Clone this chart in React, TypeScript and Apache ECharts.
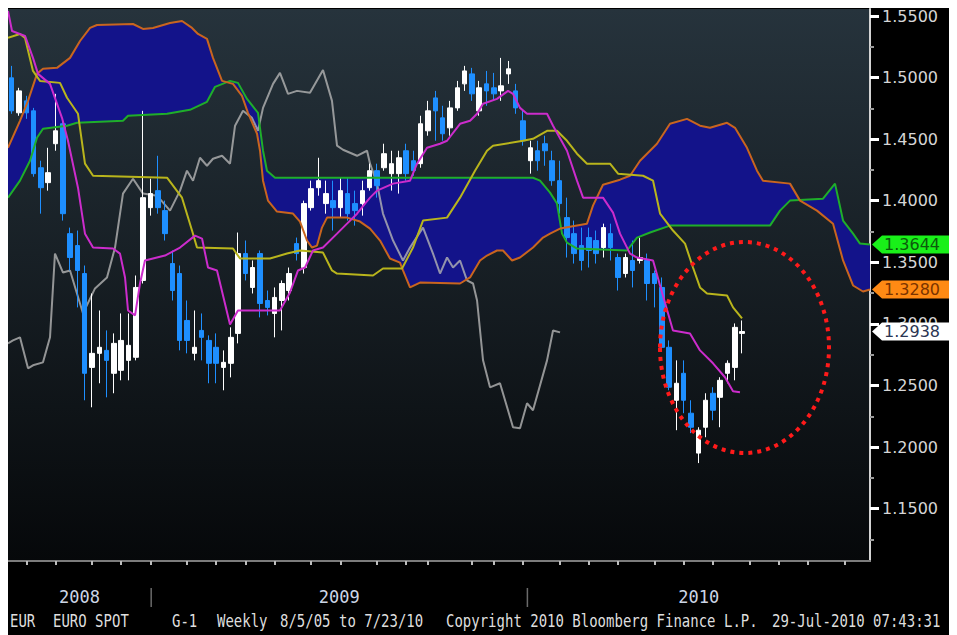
import React, { useEffect, useRef } from 'react';
import * as echarts from 'echarts';

// ---- Weekly EUR/USD candles (index 0 = first visible week) ----
const opens = [
  1.4998, 1.4714, 1.4811, 1.473, 1.4268, 1.4147, 1.4463, 1.4625, 1.3733, 1.3636,
  1.3409, 1.2647, 1.2761, 1.2785, 1.2599, 1.2623, 1.2704, 1.2729, 1.3353, 1.3944,
  1.4082, 1.392, 1.349, 1.3409, 1.3028, 1.2761, 1.2947, 1.2866, 1.281, 1.2647,
  1.268, 1.2923, 1.3571, 1.3296, 1.3571, 1.319, 1.3085, 1.319, 1.3271, 1.3652,
  1.3458, 1.3944, 1.4106, 1.3977, 1.4001, 1.3944, 1.4058, 1.3977, 1.3977, 1.4106,
  1.4244, 1.4268, 1.422, 1.422, 1.4406, 1.4325, 1.4301, 1.4568, 1.4835, 1.4673,
  1.4592, 1.4754, 1.4949, 1.503, 1.473, 1.4949, 1.4917, 1.4892, 1.503, 1.4892,
  1.4649, 1.4325, 1.4406, 1.4463, 1.4325, 1.4163, 1.3863, 1.3733, 1.3636, 1.3701,
  1.3677, 1.362, 1.3733, 1.3539, 1.3409, 1.3515, 1.3515, 1.3515, 1.3409, 1.3296,
  1.281, 1.238, 1.2599, 1.2275, 1.1951, 1.2161, 1.2437, 1.2404, 1.2599, 1.2647,
  1.2923,
];
const closes = [
  1.473, 1.4892, 1.4714, 1.422, 1.4106, 1.4228, 1.4568, 1.3895, 1.3539, 1.3434,
  1.2599, 1.2761, 1.281, 1.2704, 1.2842, 1.2866, 1.2826, 1.3296, 1.4025, 1.4058,
  1.3944, 1.3733, 1.3271, 1.2866, 1.2866, 1.281, 1.2891, 1.268, 1.268, 1.2688,
  1.2891, 1.3571, 1.3409, 1.3458, 1.3166, 1.3134, 1.3215, 1.3328, 1.3409, 1.3571,
  1.3977, 1.4098, 1.4163, 1.4058, 1.3944, 1.4082, 1.3895, 1.392, 1.4082, 1.4244,
  1.4122, 1.4382, 1.4301, 1.4349, 1.422, 1.4244, 1.4625, 1.473, 1.473, 1.4544,
  1.4754, 1.4917, 1.5054, 1.4868, 1.4917, 1.4892, 1.4868, 1.4933, 1.5071, 1.4754,
  1.4487, 1.443, 1.4325, 1.4406, 1.4163, 1.3977, 1.3701, 1.3571, 1.3515, 1.3596,
  1.3571, 1.3782, 1.362, 1.3377, 1.3539, 1.3434, 1.3539, 1.3328, 1.3328, 1.281,
  1.2486, 1.2518, 1.238, 1.2161, 1.2137, 1.238, 1.2299, 1.2542, 1.268, 1.2972,
  1.2938,
];
const lows = [
  1.4706, 1.469, 1.4665, 1.4195, 1.3895, 1.4082, 1.4406, 1.3839, 1.3434, 1.3134,
  1.238, 1.2323, 1.2518, 1.2404, 1.2437, 1.2542, 1.2542, 1.2704, 1.3328, 1.3879,
  1.3895, 1.3677, 1.319, 1.2785, 1.2761, 1.2704, 1.2704, 1.2518, 1.2518, 1.2461,
  1.2566, 1.2842, 1.3353, 1.3247, 1.3053, 1.3069, 1.2891, 1.2947, 1.319, 1.3515,
  1.3409, 1.392, 1.4041, 1.3895, 1.3758, 1.3863, 1.3839, 1.3798, 1.3879, 1.4082,
  1.4025, 1.4244, 1.4082, 1.4058, 1.4163, 1.4203, 1.4268, 1.4528, 1.4487, 1.4487,
  1.4528, 1.473, 1.4892, 1.4811, 1.469, 1.4771, 1.4811, 1.4811, 1.4949, 1.4706,
  1.4447, 1.422, 1.4244, 1.4284, 1.4122, 1.3895, 1.3539, 1.349, 1.3434, 1.3458,
  1.349, 1.3539, 1.3515, 1.3271, 1.3377, 1.3296, 1.349, 1.319, 1.3134, 1.2785,
  1.2461, 1.2137, 1.2275, 1.2113, 1.187, 1.208, 1.2218, 1.2161, 1.2518, 1.2542,
  1.2761,
];
const highs = [
  1.5095, 1.4917, 1.4852, 1.4754, 1.4325, 1.443, 1.4868, 1.4665, 1.3782, 1.3758,
  1.3474, 1.3247, 1.3109, 1.2947, 1.2923, 1.3085, 1.3085, 1.3393, 1.473, 1.4179,
  1.4365, 1.4001, 1.3596, 1.3474, 1.319, 1.3109, 1.3085, 1.2907, 1.2923, 1.2785,
  1.2972, 1.3742, 1.3677, 1.3515, 1.3596, 1.3271, 1.3296, 1.3353, 1.3458, 1.3701,
  1.4001, 1.4163, 1.4349, 1.4163, 1.4163, 1.4187, 1.4187, 1.4082, 1.4163, 1.4301,
  1.4301, 1.4463, 1.4406, 1.4406, 1.4463, 1.4406, 1.469, 1.4811, 1.4892, 1.4771,
  1.4811, 1.4973, 1.5095, 1.5079, 1.4973, 1.5054, 1.5038, 1.516, 1.5135, 1.4949,
  1.473, 1.4487, 1.4487, 1.4528, 1.4406, 1.4325, 1.4025, 1.3839, 1.3782, 1.3782,
  1.3758, 1.3814, 1.3814, 1.3571, 1.3571, 1.3677, 1.3701, 1.3571, 1.3434, 1.3377,
  1.2866, 1.2704, 1.2704, 1.238, 1.2161, 1.2437, 1.2486, 1.2567, 1.2704, 1.3004,
  1.3028,
];

// ---- Ichimoku lines, read as [week index, price] vertices ----
const tenkan = [
  [-0.5, 1.5541], [0.05, 1.5378], [1.83, 1.5338], [2.92, 1.516], [3.61, 1.503], [5.25, 1.4949],
  [6.89, 1.4673], [7.71, 1.4487], [9.08, 1.4106], [10.04, 1.3733], [11.14, 1.362], [13.87, 1.3612],
  [14.83, 1.3571], [15.52, 1.3377], [15.93, 1.3109], [16.89, 1.3069], [17.57, 1.3328], [18.25, 1.3515],
  [20.99, 1.3555], [23.05, 1.362], [25.1, 1.3717], [26.06, 1.3693], [26.88, 1.3458], [28.11, 1.3434],
  [29.89, 1.2996], [30.98, 1.3109], [36.73, 1.3109], [38.1, 1.3255], [39.2, 1.3434], [40.16, 1.3458],
  [41.25, 1.3596], [42.62, 1.362], [44.54, 1.3733], [45.91, 1.3814], [47.28, 1.3895], [48.37, 1.3977],
  [49.06, 1.4025], [50.02, 1.4082], [52.21, 1.4139], [54.54, 1.4163], [55.49, 1.4301], [56.86, 1.443],
  [58.64, 1.4463], [59.6, 1.4487], [61.38, 1.4625], [62.75, 1.4649], [63.71, 1.4706], [64.53, 1.4787],
  [66.44, 1.4827], [67.95, 1.4892], [68.63, 1.4868], [69.59, 1.4754], [70.55, 1.4706], [73.29, 1.4706],
  [74.11, 1.4609], [76.02, 1.4406], [77.39, 1.4163], [78.22, 1.4025], [80.95, 1.4025], [82.32, 1.3904],
  [83.28, 1.3733], [84.65, 1.3571], [85.61, 1.3539], [87.8, 1.3515], [88.76, 1.3312], [90.53, 1.2947],
  [92.86, 1.2923], [94.23, 1.2785], [96.01, 1.268], [97.65, 1.2567], [98.75, 1.2453], [99.7, 1.2445],
];
const kijun = [
  [-0.5, 1.5322], [1.14, 1.5354], [1.83, 1.5322], [2.92, 1.5054], [3.88, 1.4973], [6.62, 1.4957],
  [7.58, 1.4836], [9.08, 1.4706], [10.04, 1.4301], [11.14, 1.4203], [21.27, 1.4187], [23.32, 1.4025],
  [24.69, 1.3758], [25.37, 1.362], [30.3, 1.3612], [31.26, 1.3531], [35.36, 1.3531], [37.69, 1.3571],
  [39.47, 1.3596], [42.62, 1.3579], [43.85, 1.3434], [44.54, 1.3409], [49.47, 1.3393], [50.83, 1.345],
  [53.44, 1.345], [54.94, 1.362], [56.31, 1.3839], [59.6, 1.3863], [61.38, 1.4025], [63.43, 1.4244],
  [65.07, 1.4406], [65.89, 1.4447], [70.0, 1.4487], [71.37, 1.4503], [73.29, 1.4568], [74.65, 1.4568],
  [76.02, 1.4487], [77.39, 1.4382], [78.76, 1.4301], [81.91, 1.4301], [83.01, 1.422], [86.43, 1.4203],
  [87.8, 1.4163], [88.76, 1.3896], [90.53, 1.3758], [92.18, 1.3652], [93.27, 1.3458], [94.23, 1.3296],
  [95.19, 1.3247], [97.93, 1.3231], [98.75, 1.3134], [99.98, 1.3045],
];
const senkouA = [
  [-0.5, 1.4025], [1.14, 1.4163], [2.51, 1.4325], [3.47, 1.4511], [4.29, 1.4584], [7.58, 1.4609],
  [8.95, 1.4633], [15.24, 1.4649], [15.93, 1.469], [21.27, 1.4706], [24.41, 1.4738], [26.74, 1.4803],
  [27.84, 1.4925], [29.89, 1.4973], [30.98, 1.4957], [32.22, 1.4827], [33.72, 1.4714], [34.41, 1.4406],
  [34.95, 1.4244], [36.05, 1.4187], [71.37, 1.4187], [72.33, 1.4163], [73.7, 1.4066], [74.65, 1.3977],
  [75.34, 1.3733], [76.02, 1.366], [77.39, 1.3612], [84.24, 1.3596], [85.61, 1.3701], [87.39, 1.3742],
  [90.12, 1.3798], [103.81, 1.3798], [105.18, 1.392], [106.55, 1.4001], [111.07, 1.4017], [112.71, 1.4139],
  [113.81, 1.3839], [115.18, 1.3733], [116.13, 1.3652], [117.5, 1.3644],
];
const senkouB = [
  [-0.5, 1.443], [1.14, 1.4649], [2.24, 1.4811], [3.47, 1.503], [4.29, 1.5071], [6.21, 1.5079],
  [7.99, 1.516], [9.36, 1.5297], [10.73, 1.5403], [11.68, 1.5427], [16.61, 1.5435], [17.98, 1.5395],
  [19.35, 1.5403], [21.68, 1.5443], [23.32, 1.5459], [24.69, 1.5403], [25.51, 1.5354], [26.74, 1.5314],
  [27.56, 1.516], [28.8, 1.4973], [30.3, 1.4949], [31.53, 1.4852], [32.35, 1.4714], [33.59, 1.4544],
  [34.0, 1.4406], [34.41, 1.4163], [35.09, 1.4001], [36.32, 1.3912], [38.51, 1.3896], [39.47, 1.3831],
  [40.43, 1.3677], [41.12, 1.362], [41.8, 1.3636], [42.48, 1.3782], [43.17, 1.3863], [45.91, 1.3863],
  [47.69, 1.3831], [49.06, 1.3774], [50.43, 1.3677], [51.79, 1.3531], [53.16, 1.3498], [53.57, 1.3434],
  [54.53, 1.3296], [55.9, 1.3336], [61.38, 1.3328], [62.75, 1.3377], [64.12, 1.3515], [65.07, 1.3555],
  [66.44, 1.3596], [67.26, 1.3596], [68.5, 1.3515], [69.59, 1.3539], [71.37, 1.362], [72.74, 1.3701],
  [73.7, 1.3733], [75.07, 1.3774], [78.76, 1.3814], [79.58, 1.396], [80.95, 1.413], [83.28, 1.4171],
  [84.65, 1.4203], [86.02, 1.4325], [88.34, 1.4463], [90.12, 1.4625], [92.45, 1.4665], [94.23, 1.4609],
  [95.6, 1.4592], [97.93, 1.4633], [99.02, 1.4592], [100.66, 1.443], [102.03, 1.4244], [102.85, 1.4163],
  [106.55, 1.4139], [107.92, 1.4001], [110.24, 1.392], [112.44, 1.3814], [113.81, 1.3515], [115.18, 1.3312],
  [116.54, 1.3263], [117.5, 1.328],
];
const chikou = [
  [-0.5, 1.2842], [0.18, 1.2866], [1.14, 1.2891], [2.24, 1.2639], [2.92, 1.2664], [4.29, 1.2688],
  [5.25, 1.2891], [5.93, 1.3571], [7.03, 1.3417], [7.99, 1.3434], [9.77, 1.3085], [11.41, 1.3288],
  [13.05, 1.3377], [14.15, 1.362], [15.24, 1.4058], [16.61, 1.4179], [17.98, 1.4058], [19.9, 1.4041],
  [21.68, 1.392], [23.05, 1.4082], [24.0, 1.4244], [24.83, 1.4163], [25.78, 1.4349], [26.74, 1.4284],
  [27.56, 1.4341], [28.8, 1.4365], [29.89, 1.4301], [30.58, 1.4609], [31.67, 1.473], [32.9, 1.4673],
  [33.72, 1.4568], [34.41, 1.4754], [35.78, 1.4949], [36.73, 1.5038], [37.83, 1.4868], [39.06, 1.4892],
  [40.84, 1.4876], [42.62, 1.5062], [43.85, 1.4811], [44.54, 1.4447], [45.36, 1.4414], [47.28, 1.4365],
  [48.65, 1.4406], [49.06, 1.4301], [50.02, 1.4139], [50.83, 1.3896], [52.21, 1.3677], [53.57, 1.3515],
  [54.53, 1.362], [56.31, 1.3782], [57.68, 1.3571], [58.64, 1.3409], [59.6, 1.3539], [60.42, 1.3458],
  [61.38, 1.3515], [62.33, 1.3353], [63.16, 1.3328], [63.71, 1.319], [64.53, 1.2704], [65.48, 1.2485],
  [66.85, 1.2518], [68.63, 1.2161], [69.59, 1.2153], [70.55, 1.2356], [71.37, 1.2299], [73.29, 1.2704],
  [74.11, 1.2947], [75.07, 1.2931],
];

// ---- Axes / labels ----
const WEEK_COUNT = 118;
const monthTickIdx = [2, 6, 11, 15, 19, 24, 28, 32, 36, 41, 45, 50, 54, 57, 63, 66, 70, 75, 79, 83, 88, 92, 96, 101, 105, 109, 114];
const yTicks = [1.15, 1.2, 1.25, 1.3, 1.35, 1.4, 1.45, 1.5, 1.55];
const yMinorTicks = [1.125, 1.175, 1.225, 1.275, 1.325, 1.375, 1.425, 1.475, 1.525];
const Y_MIN = 1.1075;
const Y_MAX = 1.5557;
const yearLabels = ['2008', '2009', '2010'];
const yearBounds = [-0.5, 19.1, 70.6, 117.5];
const tagValues = [1.3644, 1.328, 1.2938];
const tagFills = ['#19f019', '#ff8a14', '#ffffff'];
const tagTextColors = ['#0c5a0c', '#7a3300', '#2b3552'];
const footerTexts = ['EUR', 'EURO SPOT', 'G-1', 'Weekly', '8/5/05 to 7/23/10', 'Copyright 2010 Bloomberg Finance L.P.', '29-Jul-2010 07:43:31'];
const footerX = [2, 45, 164, 209, 272, 438, 764];

export default function App() {
  const ref = useRef<HTMLDivElement>(null);

  useEffect(() => {
    if (!ref.current) return;
    const chart = echarts.init(ref.current, null, { renderer: 'svg' });
    const weekCats = Array.from({ length: WEEK_COUNT }, (_, i) => String(i));
    const tickSet = new Set(monthTickIdx);
    const candleData = opens.map((o, i) => [o, closes[i], lows[i], highs[i]]);

    const lineSeries = (name: string, data: number[][], color: string, z: number, opacity = 1) => ({
      name,
      type: 'line',
      xAxisIndex: 1,
      yAxisIndex: 0,
      data,
      showSymbol: false,
      symbol: 'none',
      silent: true,
      z,
      lineStyle: { color, width: 2, opacity },
    });

    const option: any = {
      animation: false,
      backgroundColor: '#000000',
      grid: {
        left: 0,
        top: 0,
        right: 79,
        bottom: 74,
        show: true,
        borderWidth: 0,
        backgroundColor: new echarts.graphic.LinearGradient(0, 0, 0, 1, [
          { offset: 0, color: '#26333c' },
          { offset: 1, color: '#06080a' },
        ]),
      },
      xAxis: [
        {
          type: 'category',
          data: weekCats,
          boundaryGap: true,
          axisLine: { onZero: false, lineStyle: { color: '#7c7c7c', width: 2 } },
          axisTick: {
            show: true,
            alignWithLabel: true,
            interval: (i: number) => tickSet.has(i),
            length: 4,
            lineStyle: { color: '#bdbdbd', width: 2 },
          },
          axisLabel: { show: false },
          splitLine: { show: false },
        },
        { type: 'value', min: -0.5, max: WEEK_COUNT - 0.5, show: false, splitLine: { show: false } },
      ],
      yAxis: [
        {
          type: 'value',
          position: 'right',
          min: Y_MIN,
          max: Y_MAX,
          axisLine: { show: true, onZero: false, lineStyle: { color: '#d4d4d4', width: 2 } },
          axisTick: { show: true, customValues: yTicks, length: 9, lineStyle: { color: '#ffffff', width: 3 } },
          axisLabel: {
            customValues: yTicks,
            formatter: (v: number) => v.toFixed(4),
            color: '#d6d6d6',
            fontSize: 16,
            fontFamily: 'DejaVu Sans',
            margin: 12,
          },
          splitLine: { show: false },
        },
        {
          type: 'value',
          position: 'right',
          min: Y_MIN,
          max: Y_MAX,
          axisLine: { show: false, onZero: false },
          axisTick: { show: true, customValues: yMinorTicks, length: 4, lineStyle: { color: '#9a9a9a', width: 2 } },
          axisLabel: { show: false },
          splitLine: { show: false },
        },
      ],
      series: [
        {
          type: 'custom',
          xAxisIndex: 1,
          yAxisIndex: 0,
          data: [[senkouA[0][0], senkouA[0][1]]],
          silent: true,
          z: 1,
          renderItem: (_params: any, api: any) => {
            const pts = senkouA
              .map((p) => api.coord(p))
              .concat(senkouB.slice().reverse().map((p) => api.coord(p)));
            return { type: 'polygon', shape: { points: pts }, style: { fill: '#13138a' } };
          },
        },
        lineSeries('Chikou', chikou, '#b4b4b4', 2, 0.8),
        {
          type: 'candlestick',
          xAxisIndex: 0,
          yAxisIndex: 0,
          data: candleData,
          barWidth: 5,
          silent: true,
          z: 3,
          itemStyle: {
            color: '#ffffff',
            color0: '#1e8fff',
            borderColor: '#ffffff',
            borderColor0: '#1e8fff',
            borderWidth: 1,
          },
        },
        lineSeries('Senkou A', senkouA, '#1fae2a', 4),
        lineSeries('Senkou B', senkouB, '#c9651f', 4),
        lineSeries('Kijun', kijun, '#b9b51c', 5),
        lineSeries('Tenkan', tenkan, '#cc2ccc', 5),
      ],
    };

    chart.setOption(option);

    const gfx: any[] = [];
    tagValues.forEach((v, k) => {
      const y = chart.convertToPixel({ yAxisIndex: 0 }, v) as number;
      gfx.push({
        type: 'polygon',
        z: 50,
        shape: { points: [[864, y], [874, y - 9], [941, y - 9], [941, y + 9], [874, y + 9]] },
        style: { fill: tagFills[k] },
      });
      gfx.push({
        type: 'text',
        z: 51,
        x: 876,
        y,
        style: { text: v.toFixed(4), fill: tagTextColors[k], fontSize: 16, fontFamily: 'DejaVu Sans', verticalAlign: 'middle' },
      });
    });
    yearLabels.forEach((label, k) => {
      const cx = chart.convertToPixel({ xAxisIndex: 1 }, (yearBounds[k] + yearBounds[k + 1]) / 2) as number;
      gfx.push({
        type: 'text',
        z: 50,
        x: cx,
        y: 589,
        style: { text: label, fill: '#cdd6e6', fontSize: 17, fontFamily: 'DejaVu Sans Mono', align: 'center', verticalAlign: 'middle' },
      });
    });
    yearBounds.slice(1, -1).forEach((b) => {
      const bx = chart.convertToPixel({ xAxisIndex: 1 }, b) as number;
      gfx.push({ type: 'line', z: 50, shape: { x1: bx, y1: 580, x2: bx, y2: 599 }, style: { stroke: '#6a6a6a', lineWidth: 1.5 } });
    });
    footerTexts.forEach((t, k) => {
      gfx.push({
        type: 'text',
        z: 50,
        x: footerX[k],
        y: 614,
        scaleY: 1.2,
        style: { text: t, fill: '#dedede', fontSize: 14, fontFamily: 'DejaVu Sans Mono', verticalAlign: 'middle' },
      });
    });
    gfx.push({
      type: 'ellipse',
      z: 60,
      shape: { cx: 736.5, cy: 339.5, rx: 84.5, ry: 105.5 },
      style: { fill: 'none', stroke: '#ff1a1a', lineWidth: 4, lineDash: [4, 5] },
    });
    chart.setOption({ graphic: gfx });

    return () => chart.dispose();
  }, []);

  return <div ref={ref} style={{ width: 941, height: 627, background: '#000' }} />;
}
